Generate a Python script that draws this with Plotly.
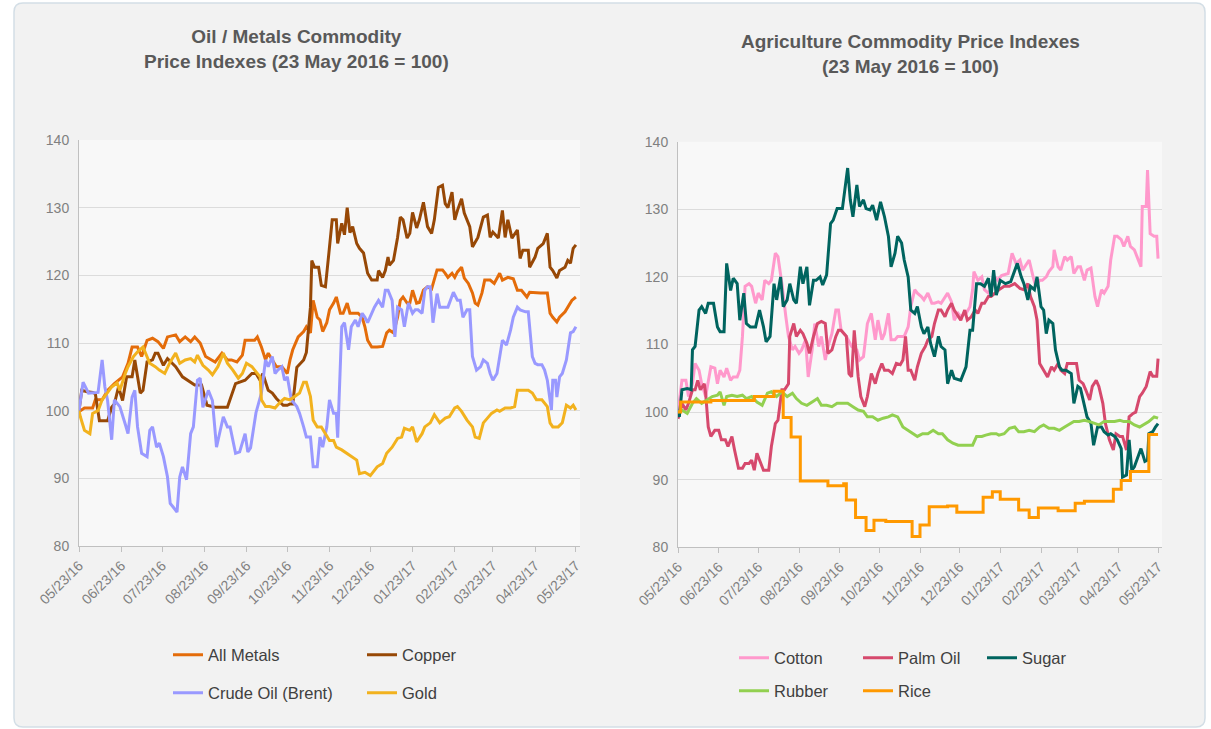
import plotly.graph_objects as go
import pandas as pd

W, H = 1211, 729
BASE = pd.Timestamp("2016-05-23")

# ---------------- data (days after 23 May 2016, index values) ----------------
metals_days = [0, 1, 4, 10, 12, 17, 21, 26, 32, 36, 39, 43, 46, 50, 54, 58, 62, 65, 71, 74, 78, 82, 85, 89, 93, 96, 100,
               105, 109, 112, 116, 120, 122, 126, 129, 131, 134, 137, 139, 142, 145, 149, 153, 155, 157, 161, 165, 167,
               170, 172, 175, 177, 179, 182, 184, 187, 189, 192, 194, 197, 199, 201, 205, 208, 210, 212, 215, 219, 223,
               226, 228, 231, 234, 236, 238, 241, 243, 245, 248, 250, 253, 256, 259, 263, 267, 269, 271, 274, 276, 278,
               281, 283, 286, 289, 291, 293, 296, 298, 302, 305, 309, 311, 315, 319, 322, 325, 329, 331, 335, 339, 344,
               346, 348, 351, 353, 357, 359, 362, 365]
metals_vals = [100, 100, 100.4, 100.4, 101.6, 101.6, 103, 104, 105, 107, 109.4, 109.4, 108, 110.4, 110.7, 110.2, 109.2,
               110.9, 111.2, 110.2, 110.9, 110.2, 110.9, 110, 108, 107.7, 107.2, 108.5, 107.5, 107.5, 107.2, 108.2, 110.4,
               110.4, 110.4, 110.9, 109.4, 107.5, 108.5, 107.5, 106.5, 106.5, 105.5, 107.5, 109, 110.9, 111.7, 112.4,
               111.5, 116.3, 113.8, 113.4, 111.7, 113, 114.9, 115.9, 116.8, 114.4, 114.4, 115.9, 114.4, 114.4, 114.4,
               113.8, 112.4, 110.4, 109.4, 109.4, 109.5, 111.5, 111.9, 111.5, 113.8, 116.3, 116.8, 115.9, 115.9, 117.8,
               115.9, 116, 117.8, 118.3, 118, 120.8, 120.8, 120.3, 119.7, 120.3, 119.7, 120.5, 121.2, 119.6, 118.8,
               117.4, 115.9, 115.6, 117.4, 119.3, 119.3, 118.8, 120.3, 119.3, 119.7, 119.5, 117.8, 117.8, 116.8, 117.5,
               117.4, 117.4, 117.4, 114.4, 113.8, 113.1, 113.8, 114.6, 115.3, 116.3, 116.8]

copper_days = [0, 2, 6, 10, 12, 15, 18, 21, 24, 26, 29, 32, 35, 39, 41, 45, 47, 50, 54, 56, 58, 62, 65, 71, 76, 80, 85,
               90, 94, 100, 109, 115, 122, 127, 130, 133, 135, 139, 142, 145, 150, 153, 155, 157, 160, 165, 167, 170,
               171, 173, 176, 178, 181, 183, 186, 189, 190, 193, 195, 197, 199, 201, 204, 206, 209, 212, 215, 219, 220,
               223, 225, 227, 228, 231, 234, 236, 238, 241, 243, 245, 248, 250, 253, 256, 259, 261, 264, 267, 269, 271,
               274, 276, 278, 281, 283, 287, 289, 293, 297, 300, 302, 304, 308, 311, 313, 315, 318, 322, 324, 326, 330,
               331, 335, 337, 341, 344, 346, 348, 351, 353, 357, 359, 361, 363, 365]
copper_vals = [100, 103, 102.8, 102.7, 102.5, 98.5, 98.5, 98.5, 100.5, 101, 103.5, 101.5, 105, 105, 107.5, 102.6, 103,
               107.2, 107.5, 108.5, 108.5, 106.7, 107.7, 106.5, 105, 104.5, 103.8, 103.8, 100.8, 100.5, 100.5, 104,
               104.5, 105.5, 105.5, 104.5, 105.5, 103, 102.6, 101.8, 100.8, 100.8, 101, 101, 106.4, 107.5, 108.6, 115.3,
               122.2, 121.2, 121.2, 118.5, 118.3, 122.2, 128.2, 128.2, 124.7, 127.7, 126, 130, 126.3, 127.2, 124.7, 124,
               123.3, 120.3, 119.3, 119.3, 120.7, 119.7, 120.7, 122.7, 121.5, 122.2, 125.6, 128.6, 128.2, 125.5, 126.2,
               129.3, 127, 128.2, 130.8, 127.2, 126.2, 128.2, 133, 133.3, 130.6, 130, 132.3, 128.2, 129.6, 131.3, 129.2,
               127.2, 124.2, 125.6, 128.6, 128.9, 125.6, 126.4, 125.5, 129.6, 125.6, 128.2, 125.5, 126.7, 122.5, 123.7,
               123.7, 121.2, 122.7, 124, 124.7, 126.2, 121.2, 120.7, 119.6, 120.7, 121.2, 122.2, 121.8, 124, 124.5]

brent_days = [0, 3, 7, 12, 14, 17, 19, 21, 24, 26, 30, 34, 36, 39, 41, 43, 46, 50, 52, 54, 57, 59, 62, 65, 67, 69, 72,
              74, 76, 79, 82, 84, 87, 89, 91, 95, 98, 101, 104, 106, 109, 111, 115, 118, 122, 124, 126, 130, 134, 137,
              139, 142, 144, 146, 149, 151, 153, 156, 160, 162, 165, 167, 170, 172, 175, 177, 179, 182, 184, 187, 189,
              190, 193, 195, 198, 200, 203, 205, 208, 210, 212, 215, 217, 220, 223, 225, 227, 230, 232, 234, 237, 239,
              242, 245, 247, 249, 252, 254, 256, 258, 260, 263, 265, 271, 275, 278, 280, 282, 285, 287, 289, 292, 295,
              297, 300, 302, 304, 307, 309, 311, 314, 317, 319, 322, 324, 328, 330, 333, 335, 337, 340, 342, 344, 347,
              348, 350, 351, 353, 355, 358, 361, 363, 365]
brent_vals = [100, 104.2, 102.6, 102.7, 102.7, 107.5, 103.5, 101.5, 95.7, 101.6, 100.6, 98, 96.6, 102, 103, 97.6, 93.7,
              93.2, 97.1, 97.6, 94.6, 95.2, 93.2, 90.2, 86.3, 85.8, 85, 90.2, 91.7, 89.8, 96.6, 97.6, 104.5, 104.8,
              100.5, 103, 101.5, 94.6, 97.1, 99.1, 97.6, 97.6, 93.7, 93.9, 96.6, 93.9, 94.5, 99.7, 102.6, 107.5, 106.5,
              108, 105.5, 106, 106.5, 104.5, 105, 101.6, 100.6, 99.6, 97.6, 96.1, 96.1, 91.7, 91.7, 96.1, 94.6, 97.6,
              101.6, 99.6, 99.6, 96, 112.4, 113, 109, 112.4, 113.4, 112.4, 114.4, 113.8, 113, 114.4, 115.3, 116.3,
              115.3, 117.8, 117.8, 116.3, 110.9, 115.3, 114.9, 112.4, 115.9, 114.4, 114.9, 114.9, 114.4, 117.8, 118.3,
              118.3, 113, 117.3, 115.3, 115.3, 117.5, 116.3, 116.3, 113.8, 114.9, 114.9, 108, 106, 106.5, 107.5, 107,
              105.5, 104.5, 105.5, 108, 110.4, 109.7, 111.9, 113.8, 115.3, 114.9, 114.6, 114.6, 108, 107, 106.8, 106.8,
              106, 104.5, 100.1, 104.5, 104.5, 102, 105, 105.5, 107.5, 111.5, 111.7, 112.4]

gold_days = [0, 1, 4, 8, 10, 14, 17, 21, 24, 28, 30, 34, 36, 40, 43, 47, 50, 52, 56, 59, 63, 67, 71, 74, 78, 82, 85, 87,
             91, 95, 98, 102, 106, 109, 113, 117, 120, 123, 127, 129, 133, 134, 137, 140, 144, 148, 151, 155, 159, 162,
             165, 167, 170, 172, 175, 178, 181, 184, 187, 189, 193, 197, 200, 204, 206, 210, 214, 219, 223, 226, 230,
             234, 237, 239, 243, 245, 248, 252, 254, 258, 261, 265, 269, 272, 276, 278, 281, 285, 289, 291, 294, 297,
             300, 303, 307, 309, 313, 317, 320, 322, 326, 330, 333, 336, 340, 344, 346, 348, 352, 355, 358, 361, 363,
             365]
gold_vals = [100, 99.1, 97.1, 96.6, 99.6, 100, 101.6, 102.6, 103.5, 104.1, 103, 105.5, 106.5, 108, 108.7, 109.4, 108, 107,
             106.5, 106, 105.5, 107.2, 108.5, 107, 107.5, 107.7, 107.2, 108.2, 106.7, 106, 105.3, 106.5, 108.5, 107, 106,
             104.8, 105.5, 107, 106.5, 106, 105, 101.6, 100.6, 100.6, 100.4, 101.3, 101.8, 101.6, 102.1, 102.6, 104.2,
             104.2, 102.1, 98.6, 97.6, 97.6, 96.6, 95.6, 95.6, 94.6, 94.2, 93.7, 93.2, 92.7, 90.7, 90.9, 90.4, 91.7,
             92.2, 93.7, 94.6, 95.9, 96.1, 97.4, 97.1, 97.6, 95.4, 96.6, 97.6, 98.2, 99.4, 98.2, 98.9, 99.1, 100.4,
             100.6, 99.9, 98.6, 97.6, 96.1, 95.9, 98.2, 98.9, 99.6, 100.1, 99.9, 100.4, 100.4, 100.6, 103, 103, 103,
             102.6, 101.6, 101.6, 100.6, 98.2, 97.6, 97.6, 98.2, 100.8, 100.4, 100.8, 100.1]

cotton_days = [0, 3, 6, 8, 11, 13, 16, 18, 21, 23, 25, 28, 30, 32, 35, 37, 40, 42, 45, 47, 49, 51, 54, 56, 59, 61, 64,
               66, 69, 71, 74, 76, 79, 82, 84, 87, 89, 92, 94, 97, 99, 102, 104, 107, 109, 112, 114, 117, 120, 122, 124,
               128, 132, 136, 138, 141, 144, 147, 150, 152, 155, 157, 160, 162, 165, 167, 170, 172, 175, 177, 180, 182,
               185, 187, 190, 193, 195, 198, 200, 203, 205, 208, 210, 213, 215, 219, 222, 224, 225, 228, 231, 233, 236,
               238, 241, 243, 246, 251, 254, 257, 260, 262, 265, 267, 270, 272, 275, 277, 280, 282, 285, 286, 289, 291,
               294, 296, 299, 301, 304, 306, 309, 311, 314, 317, 319, 322, 324, 327, 329, 332, 334, 337, 339, 342, 344,
               347, 349, 352, 353, 356, 357, 359, 362, 364, 365]
cotton_vals = [100, 104.7, 104.7, 102.3, 104.2, 107.2, 106.2, 104.2, 102.3, 104.7, 106.7, 106.5, 104.2, 106.2, 105.2,
               106.5, 104.7, 105.2, 105.2, 106.2, 111.2, 118.6, 119, 118.6, 116.1, 117.6, 116.6, 119.5, 119, 119.5, 123.5,
               123, 119, 114.1, 111.2, 109.2, 109.7, 108.7, 109.2, 110.7, 105.2, 109.2, 113.1, 109.7, 111.2, 107.7,
               109.7, 111.6, 115.1, 115.1, 112.1, 111.2, 109.7, 109.2, 107.7, 108.2, 113.1, 114.6, 110.7, 113.6, 110.7,
               111.6, 114.6, 110.7, 110.7, 111.2, 111.2, 111.2, 112.6, 115.6, 118.1, 117.6, 117.1, 116.6, 117.6, 116.1,
               116.1, 116.3, 116.1, 117.1, 117.6, 116.3, 113.6, 114.6, 114.1, 114.6, 115.6, 118.1, 120.8, 119.5, 120,
               118.1, 117.6, 118.1, 120, 119.5, 120.2, 120.5, 123.5, 122, 122.5, 121, 122, 122.5, 120, 118.6, 119.5,
               119.5, 120, 120.8, 121.5, 124, 121.5, 121, 123, 122.5, 123, 120.5, 121.5, 121.5, 119.5, 121, 121.3, 117.1,
               115.6, 118.1, 117.6, 118.6, 122.5, 126, 126, 125.5, 124.5, 126, 124.5, 124, 123, 121.5, 130.4, 130.4,
               135.8, 126.4, 126, 126, 122.7]

palm_days = [0, 3, 6, 8, 11, 13, 15, 17, 20, 21, 23, 25, 28, 31, 33, 36, 38, 41, 43, 46, 49, 51, 54, 56, 58, 60, 63, 65,
             69, 71, 74, 76, 79, 81, 84, 85, 88, 90, 93, 95, 98, 100, 103, 106, 109, 112, 114, 117, 120, 122, 124, 128,
             130, 132, 134, 137, 139, 142, 144, 147, 150, 152, 155, 157, 160, 163, 166, 169, 171, 173, 175, 177, 180,
             182, 185, 188, 190, 193, 195, 198, 200, 203, 205, 208, 210, 213, 215, 218, 220, 223, 226, 228, 231, 233,
             236, 238, 241, 244, 248, 252, 256, 260, 263, 266, 268, 271, 273, 275, 278, 281, 284, 286, 289, 291, 294,
             296, 300, 303, 305, 308, 310, 313, 315, 318, 320, 323, 325, 328, 331, 333, 336, 338, 341, 343, 346, 348,
             351, 353, 356, 359, 361, 364, 365]
palm_vals = [99, 101.3, 100.3, 101.3, 103.3, 103.3, 104.7, 103.3, 104.2, 102.8, 97.8, 96.4, 97.3, 97.3, 95.9, 95.9, 94.9,
             96.4, 94.4, 91.7, 91.7, 92.4, 92.4, 92.9, 91.4, 93.9, 92.4, 91.4, 91.4, 94.9, 98.3, 98.8, 103.3, 103.3,
             104.2, 111.2, 113.1, 111.2, 112.1, 111.6, 110.2, 108.7, 111.2, 113.1, 113.4, 113.1, 108.7, 109.2, 111.2,
             112.1, 112.1, 111.2, 105.7, 105.2, 112.1, 105.2, 102.3, 100.8, 102.3, 105.7, 104.2, 105.7, 107.2, 106.2,
             106.2, 105.7, 107.2, 107, 107.7, 111.2, 106.2, 106.2, 104.7, 106.7, 108.7, 109.7, 110.7, 111.2, 113.1,
             115.1, 115.1, 114.1, 115.1, 116.1, 115.1, 114.1, 113.6, 115.1, 113.6, 114.1, 115.1, 114.6, 116.1, 116.1,
             117.1, 117.1, 117.6, 118.1, 118.6, 118.6, 119, 118.3, 118.1, 119, 117.1, 115.6, 113.6, 107.2, 106.2,
             105.2, 106.7, 106.2, 107.2, 106.2, 105.7, 107.2, 107.2, 107.2, 104.7, 104.2, 103.3, 101.8, 103.8, 104.7,
             103.8, 101.3, 98.3, 95.9, 94.4, 96.8, 96.4, 96.4, 94.4, 99.3, 99.8, 100, 102.3, 102.8, 103.8, 106, 105.3,
             105.3, 107.9]

sugar_days = [0, 1, 3, 7, 10, 11, 13, 16, 18, 21, 23, 27, 30, 32, 35, 37, 40, 42, 45, 47, 50, 52, 55, 59, 62, 65, 67, 70,
              73, 75, 78, 80, 83, 85, 88, 90, 93, 95, 98, 100, 103, 105, 108, 110, 113, 116, 118, 121, 123, 125, 129,
              131, 133, 136, 138, 141, 143, 146, 148, 151, 154, 157, 160, 162, 165, 167, 170, 172, 175, 177, 180, 182,
              185, 187, 190, 192, 195, 198, 200, 203, 205, 208, 210, 215, 219, 222, 224, 227, 230, 233, 236, 238, 240,
              242, 245, 249, 253, 256, 258, 261, 263, 266, 268, 271, 273, 276, 278, 280, 282, 285, 287, 290, 292, 295,
              299, 301, 304, 306, 309, 311, 314, 316, 319, 322, 324, 327, 329, 332, 334, 337, 338, 341, 343, 345, 347,
              349, 352, 355, 357, 358, 361, 363, 365]
sugar_vals = [100, 99.3, 103.3, 103.5, 103.3, 109.2, 109.7, 115.1, 115.6, 114.6, 116.1, 116.1, 112.6, 111.9, 111.9, 122,
              118, 119.8, 119, 113.6, 117.6, 113.1, 112.6, 112.6, 115.1, 112.6, 110.4, 111.2, 119, 116.6, 120, 115.6,
              116.6, 119, 116.6, 116.1, 121.5, 119, 121.5, 115.8, 119.5, 119.5, 120, 118.8, 120.3, 127.9, 128.4, 130.1,
              130.1, 130.1, 136.1, 131.4, 128.9, 133.6, 130.4, 131.4, 130.1, 129.9, 130.6, 128.4, 131.1, 128.9, 126,
              121.5, 123.5, 126, 125, 122.5, 120, 115.1, 114.6, 115.6, 112.6, 111.6, 112.6, 110.2, 108.2, 111.2, 109.7,
              109.2, 104.2, 106.2, 105, 104.7, 106.7, 112.1, 112.1, 119, 119, 118.6, 119.8, 117.1, 121, 117.3, 119.5,
              119, 119.3, 120.8, 122, 120, 119, 116.6, 118.6, 118.1, 120, 115.6, 115.1, 111.6, 113.6, 113.1, 109.2,
              106.7, 106.2, 106.2, 105.7, 101.3, 103.8, 103.5, 100.8, 99.3, 98.3, 95.1, 97.8, 97.8, 97.1, 96.6, 96.8,
              96.4, 95.9, 94.6, 90.4, 90.7, 95.9, 91.4, 91.9, 92.9, 94.6, 92.7, 92.9, 96.8, 97.1, 97.8, 98.3]

rubber_days = [0, 3, 7, 11, 14, 18, 22, 26, 30, 32, 35, 37, 41, 45, 49, 52, 56, 60, 64, 68, 71, 75, 79, 83, 87, 90, 94,
               98, 102, 106, 109, 113, 117, 121, 125, 129, 133, 137, 141, 144, 148, 152, 156, 160, 163, 167, 171, 175,
               179, 182, 186, 190, 194, 198, 201, 205, 209, 213, 217, 220, 224, 227, 231, 234, 238, 242, 244, 248, 252,
               256, 259, 263, 267, 271, 275, 278, 282, 286, 290, 294, 298, 301, 305, 309, 313, 317, 320, 324, 328, 332,
               336, 339, 343, 347, 351, 355, 358, 362, 365]
rubber_vals = [100, 100.3, 99.8, 101.3, 102, 101.3, 101.8, 102.3, 102.5, 103, 101, 102.3, 102.5, 102.3, 102.5, 102,
               102.3, 101.5, 101, 102.8, 103, 102.3, 103, 102.3, 102.8, 102, 101.3, 101, 101.5, 102, 101, 101, 100.8,
               101.3, 101.3, 101.3, 100.8, 100.3, 100.1, 99.3, 99.3, 98.8, 99.1, 99.3, 99.6, 99.3, 97.8, 97.3, 96.8,
               96.4, 96.8, 96.8, 97.3, 96.8, 96.8, 95.9, 95.4, 95.1, 95.1, 95.1, 95.1, 96.4, 96.4, 96.6, 96.8, 96.8,
               96.6, 96.8, 97.6, 97.8, 97.1, 97.1, 97.3, 97.1, 97.8, 98.1, 97.6, 97.6, 97.3, 97.8, 98.3, 98.6, 98.6,
               98.8, 98.6, 98.3, 98.1, 98.6, 98.6, 98.6, 98.8, 98.6, 98.6, 98.1, 97.8, 98.3, 98.6, 99.3, 99.1]

rice_days = [0, 2, 25, 58, 73, 80, 86, 93, 114, 126, 128, 135, 143, 149, 158, 178, 184, 191, 205, 212, 232, 239, 245,
             259, 267, 274, 289, 302, 309, 331, 337, 344, 358, 365]
rice_vals = [100, 101.5, 101.7, 102.3, 103.1, 99.2, 96.3, 89.8, 89.1, 89.4, 87, 84.4, 82.5, 84, 83.8, 81.6, 83.3, 86,
             86.1, 85.2, 87.4, 88.2, 87.1, 85.5, 84.4, 85.8, 85.4, 86.5, 86.8, 88.6, 89.9, 91.2, 96.7, 96.7]

left_series = [
    ("All Metals", metals_days, metals_vals, "#e46c0a", "legend"),
    ("Copper", copper_days, copper_vals, "#974806", "legend"),
    ("Crude Oil (Brent)", brent_days, brent_vals, "#9999ff", "legend2"),
    ("Gold", gold_days, gold_vals, "#f2b21e", "legend2"),
]
right_series = [
    ("Cotton", cotton_days, cotton_vals, "#ff99cc", "legend3", "linear"),
    ("Palm Oil", palm_days, palm_vals, "#d6496d", "legend3", "linear"),
    ("Sugar", sugar_days, sugar_vals, "#00645f", "legend3", "linear"),
    ("Rubber", rubber_days, rubber_vals, "#92d050", "legend4", "linear"),
    ("Rice", rice_days, rice_vals, "#ff9900", "legend4", "hv"),
]

y_ticks = [80, 90, 100, 110, 120, 130, 140]


def to_dates(days):
    return [BASE + pd.Timedelta(days=int(d)) for d in days]


fig = go.Figure()
for name, d, v, col, lg in left_series:
    fig.add_trace(go.Scatter(x=to_dates(d), y=v, name=name, mode="lines",
                             line=dict(color=col, width=3), legend=lg, xaxis="x", yaxis="y"))
for name, d, v, col, lg, shape in right_series:
    fig.add_trace(go.Scatter(x=to_dates(d), y=v, name=name, mode="lines",
                             line=dict(color=col, width=3, shape=shape), legend=lg, xaxis="x2", yaxis="y2"))

FONT = "Arial, Liberation Sans, sans-serif"


def px_x(p):
    return p / W


def px_y(p):
    return 1 - p / H


def rrect(x0, y0, x1, y1, r):
    rx, ry = r / W, r / H
    X0, X1 = px_x(x0), px_x(x1)
    Y0, Y1 = px_y(y0), px_y(y1)  # Y0 top, Y1 bottom
    return (f"M {X0 + rx},{Y0} L {X1 - rx},{Y0} Q {X1},{Y0} {X1},{Y0 - ry} "
            f"L {X1},{Y1 + ry} Q {X1},{Y1} {X1 - rx},{Y1} L {X0 + rx},{Y1} "
            f"Q {X0},{Y1} {X0},{Y1 + ry} L {X0},{Y0 - ry} Q {X0},{Y0} {X0 + rx},{Y0} Z")


xcommon = dict(type="date", range=["2016-05-23", "2017-05-26"], tick0="2016-05-23", dtick="M1",
               tickformat="%m/%d/%y", tickangle=-45, showgrid=False, showline=True, linecolor="#c0c0c0",
               linewidth=1, ticks="outside", ticklen=5, tickcolor="#c0c0c0", zeroline=False, automargin=False,
               tickfont=dict(family=FONT, size=14, color="#808080"))
ycommon = dict(range=[80, 140], tickvals=y_ticks, showgrid=True, gridcolor="#dcdcdc", gridwidth=1,
               showline=True, linecolor="#c0c0c0", linewidth=1, ticks="", zeroline=False, automargin=False,
               tickfont=dict(family=FONT, size=14, color="#808080"), ticklabelstandoff=6)

lgcommon = dict(orientation="h", xanchor="left", yanchor="middle", bgcolor="rgba(0,0,0,0)",
                font=dict(family=FONT, size=16.5, color="#404040"), itemwidth=30, entrywidthmode="pixels",
                tracegroupgap=0)

fig.update_layout(
    width=W, height=H,
    autosize=False,
    margin=dict(l=0, r=0, t=0, b=0, pad=0, autoexpand=False),
    paper_bgcolor="#ffffff",
    plot_bgcolor="#f8f8f8",
    showlegend=True,
    hovermode=False,
    xaxis=dict(domain=[79 / W, 580 / W], anchor="y", **xcommon),
    yaxis=dict(domain=[px_y(546), px_y(140)], anchor="x", **ycommon),
    xaxis2=dict(domain=[678 / W, 1162 / W], anchor="y2", **xcommon),
    yaxis2=dict(domain=[px_y(547.3), px_y(141.7)], anchor="x2", **ycommon),
    legend=dict(x=px_x(168), y=px_y(655), entrywidth=149, **lgcommon),
    legend2=dict(x=px_x(168), y=px_y(693), entrywidth=149, **lgcommon),
    legend3=dict(x=px_x(734), y=px_y(658), entrywidth=79, **lgcommon),
    legend4=dict(x=px_x(734), y=px_y(691), entrywidth=79, **lgcommon),
    shapes=[
        dict(type="path", xref="paper", yref="paper", path=rrect(14, 3, 1205, 727, 9),
             fillcolor="#f2f2f2", line=dict(color="#d3dee6", width=1.5), layer="below"),
        dict(type="rect", xref="paper", yref="paper", x0=px_x(79), x1=px_x(580), y0=px_y(546), y1=px_y(140),
             fillcolor="#f8f8f8", line=dict(width=0), layer="below"),
        dict(type="rect", xref="paper", yref="paper", x0=px_x(678), x1=px_x(1162), y0=px_y(547.3),
             y1=px_y(141.7), fillcolor="#f8f8f8", line=dict(width=0), layer="below"),
    ],
    annotations=[
        dict(text="<b>Oil / Metals Commodity<br>Price Indexes (23 May 2016 = 100)</b>", xref="paper",
             yref="paper", x=px_x(296), y=px_y(49), xanchor="center", yanchor="middle", showarrow=False,
             font=dict(family=FONT, size=19, color="#595959")),
        dict(text="<b>Agriculture Commodity Price Indexes<br>(23 May 2016 = 100)</b>", xref="paper",
             yref="paper", x=px_x(910), y=px_y(54.5), xanchor="center", yanchor="middle", showarrow=False,
             font=dict(family=FONT, size=19, color="#595959")),
    ],
)

fig.write_html("out.html", config={"displayModeBar": False, "staticPlot": True},
               post_script="document.body.style.margin='0px';document.body.style.overflow='hidden';")
